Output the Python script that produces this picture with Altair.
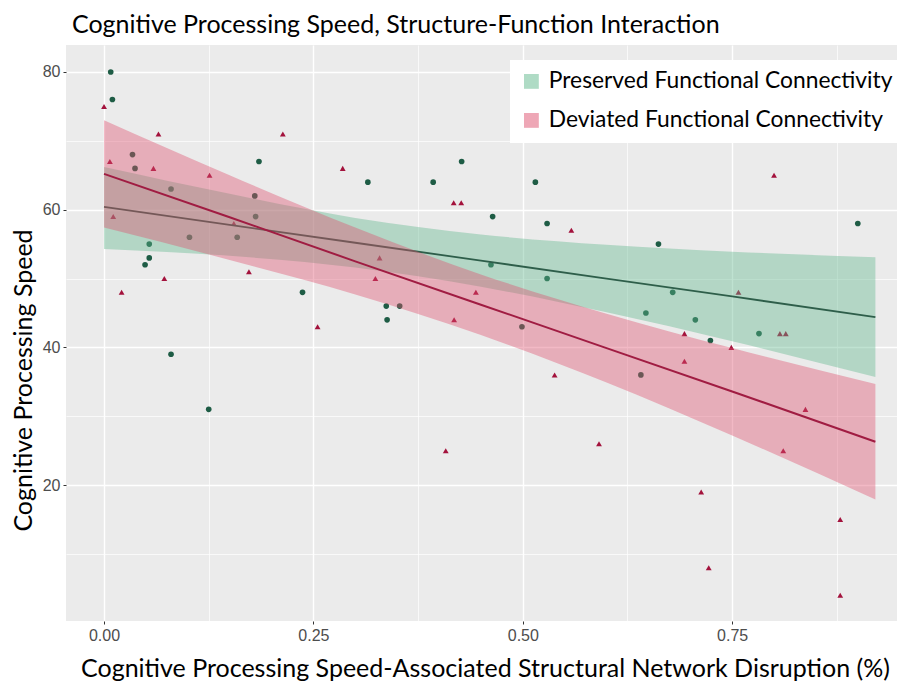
import altair as alt
import pandas as pd

# ---------------- data ----------------
G_NAME = "Preserved Functional Connectivity"
R_NAME = "Deviated Functional Connectivity"

green_x = [0.008, 0.010, 0.034, 0.037, 0.080, 0.185, 0.180, 0.181, 0.102, 0.159,
           0.054, 0.054, 0.049, 0.237, 0.080, 0.125, 0.315, 0.393, 0.427, 0.515,
           0.464, 0.529, 0.462, 0.529, 0.337, 0.353, 0.338, 0.499, 0.647, 0.641,
           0.900, 0.662, 0.679, 0.706, 0.782, 0.724]
green_y = [80, 76, 68, 66, 63, 67, 62, 59, 56, 56,
           55, 53, 52, 48, 39, 31, 64, 64, 67, 64,
           59, 58, 52, 50, 46, 46, 44, 43, 45, 36,
           58, 55, 48, 44, 42, 41]

red_x = [0.000, 0.065, 0.2135, 0.007, 0.059, 0.285, 0.126, 0.011, 0.155, 0.173,
         0.072, 0.021, 0.255, 0.4175, 0.4265, 0.558, 0.329, 0.324, 0.444, 0.418,
         0.538, 0.408, 0.591, 0.800, 0.7575, 0.693, 0.807, 0.814, 0.749, 0.693,
         0.8375, 0.811, 0.713, 0.879, 0.722, 0.879]
red_y = [75, 71, 71, 67, 66, 66, 65, 59, 58, 51,
         50, 48, 43, 61, 61, 57, 53, 50, 48, 44,
         36, 25, 26, 65, 48, 42, 42, 42, 40, 38,
         31, 25, 19, 15, 8, 4]

# fitted lines and confidence bands, read at a few x positions
band_x = [0.0, 0.15, 0.30, 0.45, 0.60, 0.75, 0.921]
green_fit = [60.4, 57.8, 55.2, 52.6, 50.0, 47.4, 44.4]
green_hi = [66.2, 62.3, 58.8, 56.4, 54.9, 53.9, 53.1]
green_lo = [54.3, 53.3, 51.6, 48.8, 45.1, 40.9, 35.7]
red_fit = [65.2, 58.9, 52.5, 46.2, 39.9, 33.6, 26.3]
red_hi = [73.0, 65.0, 57.4, 50.6, 44.9, 39.9, 34.7]
red_lo = [57.4, 52.7, 47.7, 41.8, 34.9, 27.2, 17.9]

x_ticks = [0.0, 0.125, 0.25, 0.375, 0.5, 0.625, 0.75, 0.875]
y_ticks = [10, 20, 30, 40, 50, 60, 70, 80]

# ---------------- tables ----------------
green_pts = pd.DataFrame({"x": green_x, "y": green_y})
red_pts = pd.DataFrame({"x": red_x, "y": red_y})
bands = pd.DataFrame({
    "x": band_x * 2,
    "fit": green_fit + red_fit,
    "hi": green_hi + red_hi,
    "lo": green_lo + red_lo,
    "group": [G_NAME] * len(band_x) + [R_NAME] * len(band_x),
})

GREEN_PT = "#1E5C45"
RED_PT = "#A3123C"
GREEN_LINE = "#2E5E4A"
RED_LINE = "#A01C42"
GREEN_FILL = "#5FB78C"
RED_FILL = "#DE506E"

xscale = alt.Scale(domain=[-0.0454, 0.9468], nice=False, zero=False)
yscale = alt.Scale(domain=[0.26, 83.92], nice=False, zero=False)

xaxis = alt.Axis(
    values=x_ticks,
    labelExpr="datum.value % 0.25 == 0 ? format(datum.value, '.2f') : ''",
    gridWidth={"condition": {"test": "datum.value % 0.25 == 0", "value": 1.4}, "value": 0.7},
    tickOpacity={"condition": {"test": "datum.value % 0.25 == 0", "value": 1}, "value": 0},
    title="Cognitive Processing Speed-Associated Structural Network Disruption (%)",
    titleX=419, titleY=55, titleBaseline="alphabetic", titleAlign="center",
)
yaxis = alt.Axis(
    values=y_ticks,
    labelExpr="datum.value % 20 == 0 ? format(datum.value, 'd') : ''",
    gridWidth={"condition": {"test": "datum.value % 20 == 0", "value": 1.4}, "value": 0.7},
    tickOpacity={"condition": {"test": "datum.value % 20 == 0", "value": 1}, "value": 0},
    title="Cognitive Processing Speed",
    titleX=-35, titleY=335, titleAngle=270, titleBaseline="alphabetic", titleAlign="center",
)


def pointlayer(df, col, shape, size):
    return alt.Chart(df).mark_point(filled=True, size=size, opacity=1, color=col, shape=shape).encode(
        x=alt.X("x:Q", scale=xscale, axis=xaxis),
        y=alt.Y("y:Q", scale=yscale, axis=yaxis),
    )


color_scale = alt.Scale(domain=[G_NAME, R_NAME], range=[GREEN_FILL, RED_FILL])


def ribbon(name):
    return alt.Chart(bands).transform_filter(alt.datum.group == name).mark_area(
        opacity=0.4, interpolate="monotone"
    ).encode(
        x=alt.X("x:Q", scale=xscale),
        y=alt.Y("hi:Q", scale=yscale),
        y2="lo:Q",
        color=alt.Color("group:N", scale=color_scale, sort=[G_NAME, R_NAME],
                        legend=alt.Legend(title=None)),
    )


def fitline(name, col, w):
    return alt.Chart(bands).transform_filter(alt.datum.group == name).mark_line(
        color=col, strokeWidth=w
    ).encode(
        x=alt.X("x:Q", scale=xscale),
        y=alt.Y("fit:Q", scale=yscale),
    )


chart = alt.layer(
    pointlayer(green_pts, GREEN_PT, "circle", 32),
    pointlayer(red_pts, RED_PT, "triangle-up", 34),
    ribbon(G_NAME),
    fitline(G_NAME, GREEN_LINE, 1.8),
    ribbon(R_NAME),
    fitline(R_NAME, RED_LINE, 2.0),
).properties(
    width=831,
    height=576,
    title=alt.TitleParams(
        "Cognitive Processing Speed, Structure-Function Interaction",
        anchor="start", frame="group", offset=14, dx=6, dy=27, baseline="alphabetic",
        font="Lato", fontSize=25, fontWeight="normal", color="#000000",
    ),
    autosize=alt.AutoSizeParams(type="none"),
    padding={"left": 58, "top": 37, "right": 0, "bottom": 60},
).configure_view(
    fill="#EBEBEB", stroke=None
).configure_axis(
    domain=False,
    gridColor="#FFFFFF",
    labelFont="Liberation Sans",
    labelFontSize=16,
    labelColor="#4D4D4D",
    tickColor="#333333",
    tickSize=3,
    labelPadding=3,
    titleFont="Lato",
    titleFontSize=25,
    titleFontWeight="normal",
    titleColor="#000000",
).configure_legend(
    orient="none",
    legendX=444,
    legendY=15,
    fillColor="#FFFFFF",
    padding=10,
    labelFont="Lato",
    labelFontSize=22.8,
    labelColor="#000000",
    symbolType="square",
    symbolSize=220,
    symbolOpacity=0.5,
    symbolStrokeWidth=0,
    rowPadding=15,
    labelOffset=6,
    labelLimit=500,
)

chart.save("out.html", embed_options={"renderer": "svg", "actions": False})
